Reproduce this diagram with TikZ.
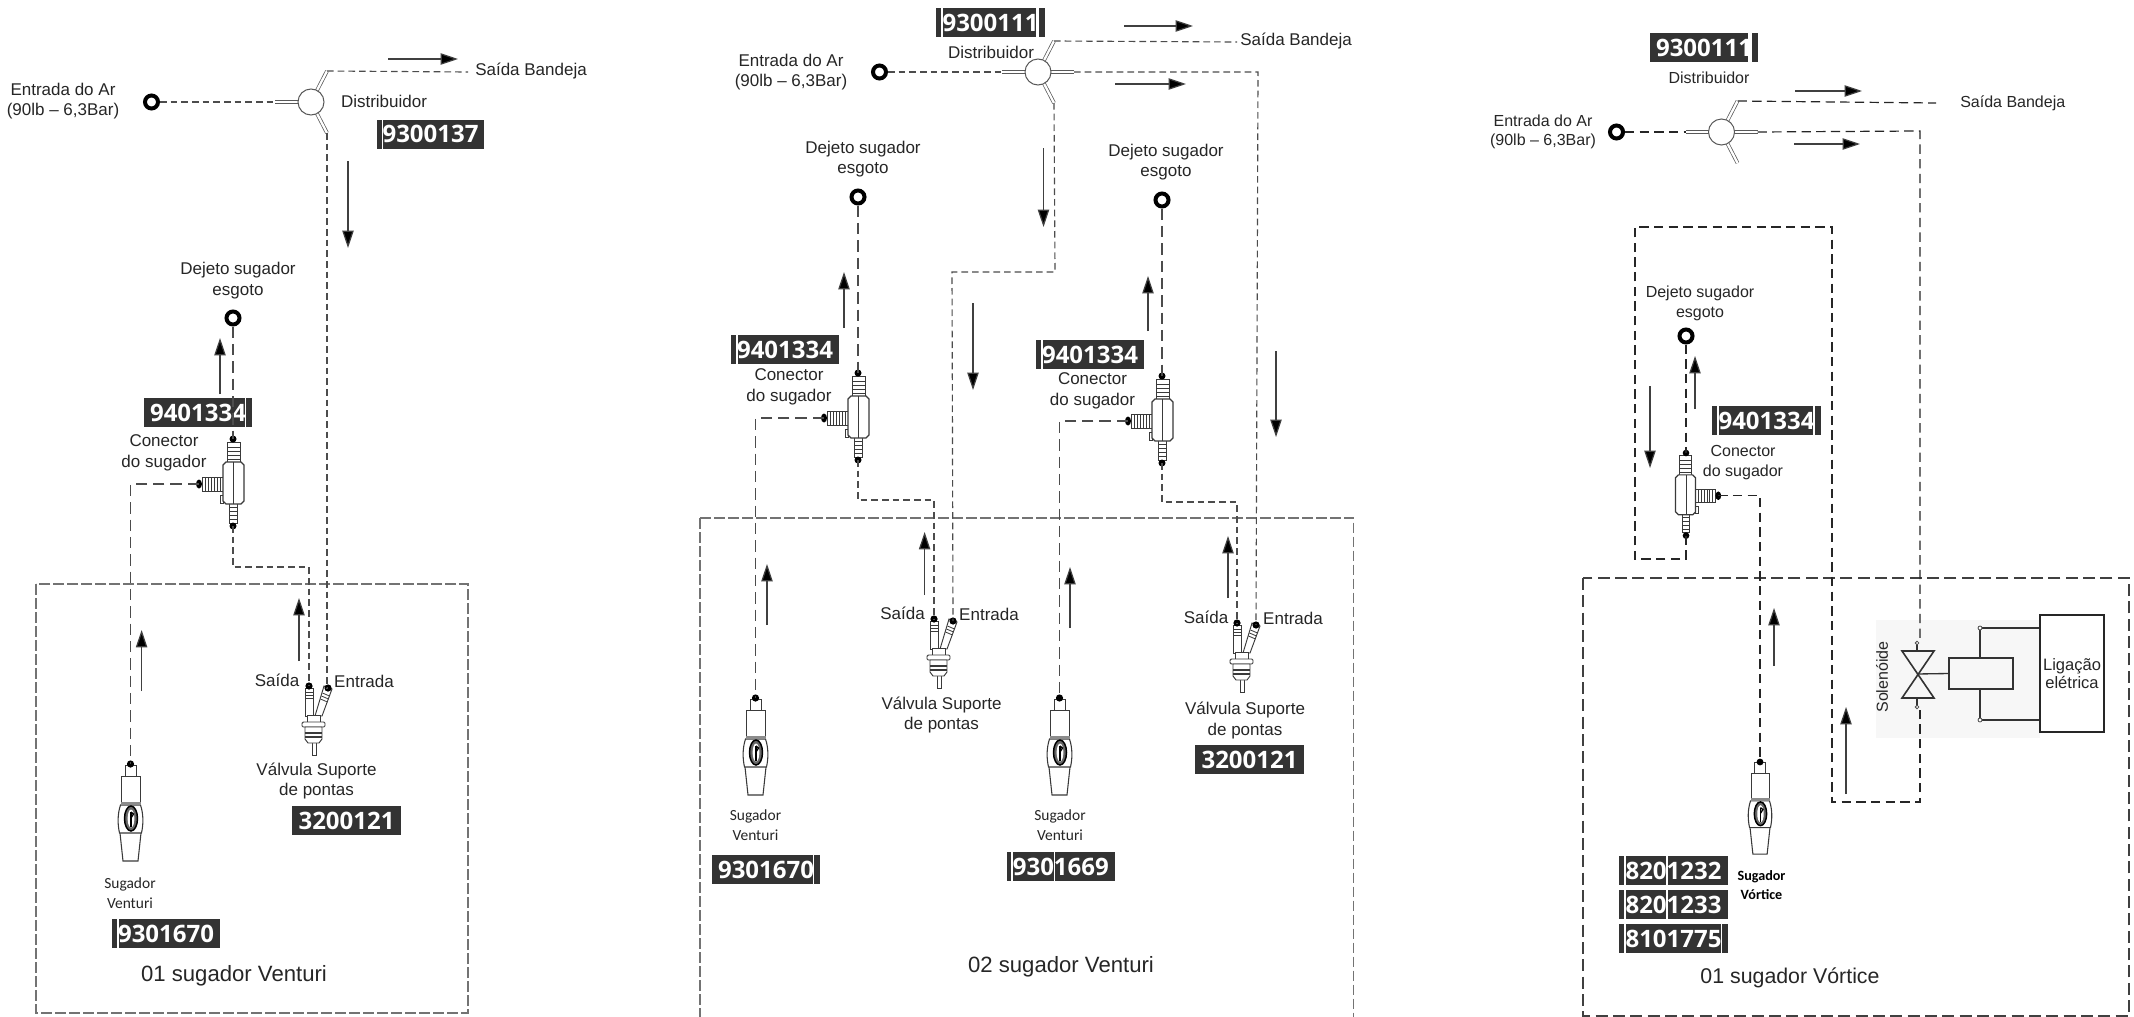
\documentclass[tikz,border=0pt]{standalone}
\usepackage{fontspec}
\setmainfont{Liberation Sans}
\newfontfamily\sugfont{Carlito}
\newfontfamily\badgefont{Open Sans}
\usetikzlibrary{arrows.meta}
\definecolor{badgebg}{HTML}{333333}
\definecolor{ink}{HTML}{262626}
\definecolor{partline}{HTML}{3A3A3A}
\tikzset{
  wire/.style={draw=black!70,line width=.85pt,dash pattern=on 5pt off 3pt},
  longwire/.style={draw=black!70,line width=.85pt,dash pattern=on 8.5pt off 4.5pt},
  darkwire/.style={draw=black!85,line width=.9pt,dash pattern=on 7pt off 4pt},
  framebox/.style={draw=black!55,line width=1.1pt,dash pattern=on 8pt off 2.5pt},
  darkframe/.style={draw=black!75,line width=1.1pt,dash pattern=on 9pt off 4pt},
  flow/.style={draw=black!75,line width=.9pt,-{Triangle[length=13pt,width=8.5pt,fill=black]}},
  ringnode/.style={circle,draw=black,line width=3pt,minimum size=9.75pt,inner sep=0pt},
  part/.style={draw=partline,line width=.7pt,fill=white},
  rib/.style={draw=partline,line width=.6pt},
  port/.style={fill=black},
  label/.style={inner sep=0pt,align=center,text=ink,font=\fontsize{12.75pt}{15.5pt}\selectfont},
  labelsm/.style={inner sep=0pt,align=center,text=ink,font=\fontsize{12pt}{14.5pt}\selectfont},
  sugtext/.style={inner sep=0pt,align=center,text=ink,font=\sugfont\fontsize{11.6pt}{15.2pt}\selectfont},
  sugbold/.style={inner sep=0pt,align=center,text=black,font=\sugfont\bfseries\fontsize{10.6pt}{14.2pt}\selectfont},
  caption/.style={inner sep=0pt,text=ink,font=\fontsize{16.6pt}{20pt}\selectfont},
  badgebox/.style={fill=badgebg,text=white,inner sep=0pt,font=\badgefont\bfseries\fontsize{18pt}{20pt}\selectfont},
  stripe/.style={draw=white,line width=1pt},
  armline/.style={draw=black!65,line width=.55pt,double=white,double distance=1.7pt},
  distrib/.pic={
    \coordinate (-left) at (-36,0);
    \coordinate (-up) at (16,-31);
    \coordinate (-low) at (16,31);
    \draw[armline] (0,0) -- (-left);
    \draw[armline] (0,0) -- (-up);
    \draw[armline] (0,0) -- (-low);
    \draw[draw=black!65,line width=.75pt,fill=white] (0,0) circle (13);
  },
  distribr/.pic={
    \coordinate (-left) at (-36,0);
    \coordinate (-up) at (16,-31);
    \coordinate (-low) at (16,31);
    \coordinate (-right) at (36,0);
    \draw[armline] (0,0) -- (-left);
    \draw[armline] (0,0) -- (-up);
    \draw[armline] (0,0) -- (-low);
    \draw[armline] (0,0) -- (-right);
    \draw[draw=black!65,line width=.75pt,fill=white] (0,0) circle (13);
  },
  connector/.pic={
    \coordinate (-top) at (0,0);
    \coordinate (-side) at (-34,45);
    \coordinate (-bot) at (0,87);
    \draw[part] (-6,3) rectangle (7,24);
    \foreach \r in {8,12,16,20} \draw[rib] (-6,\r) -- (7,\r);
    \draw[part] (-31,38) rectangle (-10,52);
    \foreach \r in {-28,-25,-22,-19,-16,-13} \draw[rib] (\r,38) -- (\r,52);
    \draw[part] (-4,64) rectangle (4,84);
    \foreach \r in {68,72,76,80} \draw[rib] (-4,\r) -- (4,\r);
    \draw[part] (-13,56) rectangle (-10,64);
    \draw[part,line width=.9pt] (-10,26) -- (-7,23) -- (8,23) -- (11,26) -- (11,62) -- (8,65) -- (-7,65) -- (-10,62) -- cycle;
    \draw[rib] (0,23) -- (0,65);
    \fill[port] (-top) circle (3.5);
    \fill[port] (-side) ellipse (3 and 4.5);
    \fill[port] (-bot) circle (3.5);
  },
  valve/.pic={
    \coordinate (-out) at (0,0);
    \coordinate (-in) at (19,2);
    \draw[part] (-4,2) rectangle (4,30);
    \foreach \r in {6,9,12} \draw[rib] (-4,\r) -- (4,\r);
    \draw[part] (15,0) -- (23,3) -- (13,30) -- (6,30) -- cycle;
    \draw[rib] (13.5,7) -- (20.5,10);
    \draw[rib] (12.5,10) -- (19.5,13);
    \draw[rib] (11.5,13) -- (18.5,16);
    \draw[part] (-2,29) rectangle (11,36);
    \draw[part,rounded corners=1pt] (-7,36) rectangle (16,41);
    \draw[part] (3,54) rectangle (7,69);
    \draw[part] (-4,41) -- (13,41) -- (13,53) -- (10,57) -- (-1,57) -- (-4,53) -- cycle;
    \draw[draw=partline,line width=1.2pt] (-4,47) -- (13,47);
    \draw[draw=partline,line width=1.2pt] (-4,51) -- (13,51);
    \fill[port] (-out) circle (3.6);
    \fill[port] (-in) circle (3.6);
  },
  sugador/.pic={
    \coordinate (-tip) at (0,0);
    \draw[part] (-5.5,12) -- (-5.5,1) -- (5.5,1) -- (5.5,12);
    \draw[part] (-9.5,12) rectangle (9.5,38);
    \draw[part,line width=.8pt] (-10.5,69) -- (-7.5,97) -- (7.5,97) -- (10.5,69);
    \draw[part,line width=.8pt] (-10,41) .. controls (-13,50) and (-13,60) .. (-11,69) -- (11,69) .. controls (13,60) and (13,50) .. (10,41) -- cycle;
    \fill[black!45] (-10,38) rectangle (10,41);
    \draw[black,line width=1.1pt,fill=black!60] (0.5,54.5) ellipse (6.5 and 12.5);
    \fill[white] (0.5,54.5) ellipse (3.4 and 9);
    \draw[black,line width=1.3pt] (0.5,48) -- (0.5,63);
    \draw[black,line width=1pt] (0.5,48) -- (3,50) -- (0.5,54);
    \fill[port] (-tip) circle (3.6);
  }
}
% name, x1, y1, x2, y2, text
\newcommand{\badge}[6]{\node[badgebox,minimum width={(#4-#2)*0.75pt},minimum height={(#5-#3)*0.75pt}] (#1) at ({(#2+#4)/2},{(#3+#5)/2}) {#6};}
\newcommand{\bstripe}[3]{\draw[stripe] (#1,#2) -- (#1,#3);}
\newcommand{\flowarrow}[3]{\coordinate (#1a) at (#2); \coordinate (#1b) at (#3); \draw[flow] (#1a) -- (#1b);}
\begin{document}
\begin{tikzpicture}[x=0.75pt,y=-0.75pt]
\useasboundingbox (0,0) rectangle (2134,1017);
\fill[white] (0,0) rectangle (2134,1017);

%% ---------- PANEL 1 ----------
\draw[framebox] (36,584) rectangle (468,1013);
\node[label] (p1in) at (63,101) {Entrada do Ar\\(90lb -- 6,3Bar)};
\node[ringnode] (p1ring) at (151.5,102) {};
\pic (p1d) at (311,102) {distrib};
\coordinate (p1sb) at (468,72);
\node[label,anchor=west] (p1sbt) at (475,71) {Saída Bandeja};
\node[label] (p1dt) at (384,101) {Distribuidor};
\badge{p1b1}{377}{120}{484}{148.5}{9300137}
\bstripe{382.8}{120}{148.5}
\node[label] (p1dj) at (238,280.5) {Dejeto sugador\\esgoto};
\node[ringnode] (p1drain) at (233,318) {};
\pic (p1c) at (233,439) {connector};
\badge{p1b2}{144}{398}{252}{427}{9401334}
\bstripe{245.5}{398}{427}
\node[label] (p1ct) at (164,453) {Conector\\do sugador};
\pic (p1v) at (309,686) {valve};
\pic (p1s) at (130.5,764) {sugador};
\node[label] (p1sa) at (277,680) {Saída};
\node[label] (p1en) at (364,681) {Entrada};
\node[label] (p1vt) at (316.5,781) {Válvula Suporte\\de pontas};
\badge{p1b3}{292}{806}{401}{835}{3200121}
\node[sugtext] (p1st) at (130,893) {Sugador\\Venturi};
\badge{p1b4}{112}{919}{220}{948}{9301670}
\bstripe{118}{919}{948}
\node[caption] (p1cap) at (234,976) {01 sugador Venturi};
\coordinate (p1j) at (309,567);
\draw[wire] (p1ring) -- (p1d-left);
\draw[wire] (p1d-up) -- (p1sb);
\draw[wire] (p1d-low) |- (p1v-in);
\draw[longwire] (p1drain) -- (p1c-top);
\draw[longwire] (p1c-side) -| (p1s-tip);
\draw[wire] (p1c-bot) |- (p1j) -- (p1v-out);
\flowarrow{p1f1}{388,59}{458,59}
\flowarrow{p1f2}{348,161}{348,248}
\flowarrow{p1f3}{220,394}{220,338}
\flowarrow{p1f4}{141.6,691}{141.6,630}
\flowarrow{p1f5}{299,661}{299,598}

%% ---------- PANEL 2 ----------
\draw[framebox] (700,518) -- (1353.5,518) -- (1353.5,1017);
\draw[framebox] (700,518) -- (700,1017);
\node[label] (p2in) at (791,72) {Entrada do Ar\\(90lb -- 6,3Bar)};
\node[ringnode] (p2ring) at (879.5,72) {};
\pic (p2d) at (1038,72) {distribr};
\coordinate (p2sb) at (1237,42);
\node[label,anchor=west] (p2sbt) at (1240,41) {Saída Bandeja};
\node[label] (p2dt) at (991,52) {Distribuidor};
\badge{p2b1}{936}{8}{1045}{37}{9300111}
\bstripe{942}{8}{37}
\draw[stripe,line width=2pt] (1037.5,8) -- (1037.5,37);
\node[label] (p2dj) at (863,159) {Dejeto sugador\\esgoto};
\node[ringnode] (p2drain) at (858,197) {};
\pic (p2c) at (858,373) {connector};
\badge{p2b2}{731}{335}{839}{364}{9401334}
\bstripe{737}{335}{364}
\node[label] (p2ct) at (789,387) {Conector\\do sugador};
\pic (p2v) at (934,619) {valve};
\pic (p2s) at (755.5,698) {sugador};
\node[label] (p2sa) at (902.5,613) {Saída};
\node[label] (p2en) at (989,614) {Entrada};
\node[label] (p2vt) at (941.5,715) {Válvula Suporte\\de pontas};
\node[sugtext] (p2st) at (755.5,825) {Sugador\\Venturi};
\badge{p2b3}{712}{855}{820}{884}{9301670}
\bstripe{813.6}{855}{884}
\node[label] (p2dj2) at (1166,162) {Dejeto sugador\\esgoto};
\node[ringnode] (p2drain2) at (1162,200) {};
\pic (p2c2) at (1162,376) {connector};
\badge{p2b4}{1036}{340}{1144}{369}{9401334}
\bstripe{1042}{340}{369}
\node[label] (p2ct2) at (1092.5,390.5) {Conector\\do sugador};
\pic (p2v2) at (1237,623) {valve};
\pic (p2s2) at (1059.5,698) {sugador};
\node[label] (p2sa2) at (1206,617) {Saída};
\node[label] (p2en2) at (1293,618) {Entrada};
\node[label] (p2vt2) at (1245,720.5) {Válvula Suporte\\de pontas};
\badge{p2b5}{1195}{745}{1304}{774}{3200121}
\node[sugtext] (p2st2) at (1060,825) {Sugador\\Venturi};
\badge{p2b6}{1006.6}{852}{1115}{881}{9301669}
\bstripe{1012}{852}{881}
\bstripe{1054.3}{852}{881}
\node[caption] (p2cap) at (1061,967) {02 sugador Venturi};
\coordinate (p2j1) at (1055,272);
\coordinate (p2j2) at (952,272);
\coordinate (p2j3) at (934,500);
\coordinate (p2j4) at (1237,502);
\coordinate (p2j5) at (1258,72);
\draw[wire] (p2ring) -- (p2d-left);
\draw[wire] (p2d-up) -- (p2sb);
\draw[wire] (p2d-low) -- (p2j1) -- (p2j2) -- (p2v-in);
\draw[wire] (p2d-right) -- (p2j5) -- (p2v2-in);
\draw[longwire] (p2drain) -- (p2c-top);
\draw[longwire] (p2c-side) -| (p2s-tip);
\draw[wire] (p2c-bot) |- (p2j3) -- (p2v-out);
\draw[longwire] (p2drain2) -- (p2c2-top);
\draw[longwire] (p2c2-side) -| (p2s2-tip);
\draw[wire] (p2c2-bot) |- (p2j4) -- (p2v2-out);
\flowarrow{p2f1}{1124,26}{1193,26}
\flowarrow{p2f2}{1115,84}{1186,84}
\flowarrow{p2f3}{1043.5,148}{1043.5,227}
\flowarrow{p2f4}{973,303}{973,390}
\flowarrow{p2f5}{1276,351}{1276,437}
\flowarrow{p2f6}{844,328}{844,272}
\flowarrow{p2f7}{1148,331}{1148,276}
\flowarrow{p2f8}{767,625}{767,564}
\flowarrow{p2f9}{1070,628}{1070,567}
\flowarrow{p2f10}{924.6,595}{924.6,532}
\flowarrow{p2f11}{1228,598}{1228,536}

%% ---------- PANEL 3 ----------
\draw[darkframe] (1583,578) rectangle (2129,1016);
\fill[black!3] (1876,620) rectangle (2040,738);
\node[labelsm] (p3in) at (1543,132) {Entrada do Ar\\(90lb -- 6,3Bar)};
\node[ringnode] (p3ring) at (1616.5,132) {};
\pic (p3d) at (1721.5,132) {distribr};
\coordinate (p3sb) at (1936,103);
\node[labelsm,anchor=west] (p3sbt) at (1960,103) {Saída Bandeja};
\node[labelsm] (p3dt) at (1709,78) {Distribuidor};
\badge{p3b1}{1650}{33}{1758}{62}{9300111}
\draw[stripe,line width=2.6pt] (1750,33) -- (1750,62);
\node[labelsm] (p3dj) at (1700,303.5) {Dejeto sugador\\esgoto};
\node[ringnode] (p3drain) at (1686,336) {};
\pic[xscale=-1,scale=.95] (p3c) at (1686,453) {connector};
\badge{p3b2}{1712}{406}{1821}{435}{9401334}
\bstripe{1718}{406}{435}
\bstripe{1814}{406}{435}
\node[labelsm] (p3ct) at (1743,462.5) {Conector\\do sugador};
\pic[scale=.95] (p3s) at (1760,762) {sugador};
\node[sugbold] (p3st) at (1761.5,885.5) {Sugador\\Vórtice};
\badge{p3b3}{1619}{856}{1728}{885}{8201232}
\bstripe{1625}{856}{885}
\bstripe{1667}{856}{885}
\badge{p3b4}{1619}{890}{1728}{919}{8201233}
\bstripe{1625}{890}{919}
\bstripe{1667}{890}{919}
\badge{p3b5}{1619}{924}{1728}{953}{8101775}
\bstripe{1625}{924}{953}
\bstripe{1721.5}{924}{953}
\node[caption,font=\fontsize{16pt}{20pt}\selectfont] (p3cap) at (1790,978) {01 sugador Vórtice};
% solenoid
\coordinate (solc) at (1917,674);
\coordinate (solt) at (1917,643);
\coordinate (solb) at (1917,707);
\draw[draw=black!80,line width=1.2pt] (1902,651) -- (1934,651) -- (1902,698) -- (1934,698) -- cycle;
\draw[draw=black!80,line width=1pt] (solt) -- (1917,651) (1917,698) -- (solb);
\draw[draw=black!70,line width=.6pt,fill=white] (solt) circle (1.8) (solb) circle (1.8);
\node[draw=black!80,line width=1.3pt,minimum width=48pt,minimum height=23.2pt,inner sep=0pt] (coil) at (1981,673.5) {};
\node[draw=black!85,line width=.9pt,minimum width=48pt,minimum height=87.75pt,inner sep=0pt,align=center,text=ink,font=\fontsize{12.4pt}{13.6pt}\selectfont] (lig) at (2072,673.5) {Ligação\\elétrica};
\coordinate (t1) at (1980,628);
\coordinate (t2) at (1980,720);
\draw[draw=black!80,line width=1pt] (solc) -- (coil.west);
\draw[draw=black!80,line width=1pt] (coil.north -| t1) -- (t1) -- (t1 -| lig.west);
\draw[draw=black!80,line width=1pt] (coil.south -| t2) -- (t2) -- (t2 -| lig.west);
\draw[draw=black!70,line width=.6pt,fill=white] (t1) circle (2) (t2) circle (2);
\node[labelsm,rotate=90] (soltxt) at (1882,677) {Solenóide};
\coordinate (p3j1) at (1920,131);
\coordinate (p3a) at (1920,640);
\coordinate (p3e) at (1920,708);
\coordinate (p3f) at (1920,802);
\coordinate (p3g) at (1832,802);
\coordinate (p3h) at (1832,227);
\coordinate (p3i) at (1635,227);
\coordinate (p3k) at (1635,559);
\coordinate (p3m) at (1686,559);
\draw[darkwire] (p3ring) -- (p3d-left);
\draw[darkwire] (p3d-up) -- (p3sb);
\draw[darkwire] (p3d-right) -- (p3j1) -- (p3a);
\draw[darkwire] (p3drain) -- (p3c-top);
\draw[darkwire] (p3c-side) -| (p3s-tip);
\draw[darkwire] (p3c-bot) -- (p3m) -- (p3k) -- (p3i) -- (p3h) -- (p3g) -- (p3f) -- (p3e);
\flowarrow{p3f1}{1795,91}{1862,91}
\flowarrow{p3f2}{1794,144}{1860,144}
\flowarrow{p3f3}{1695,409}{1695,356}
\flowarrow{p3f4}{1650,386}{1650,468}
\flowarrow{p3f5}{1774,666}{1774,608}
\flowarrow{p3f6}{1846,794}{1846,707}
\end{tikzpicture}
\end{document}
